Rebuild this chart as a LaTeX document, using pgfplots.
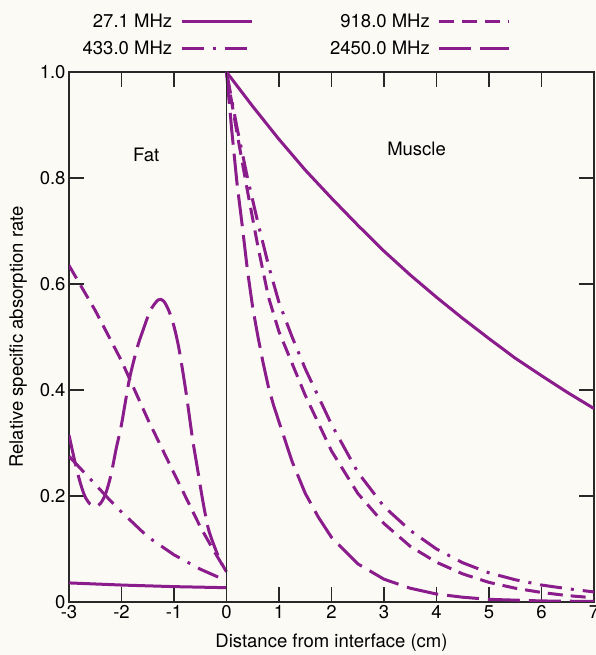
\documentclass[border=0pt]{standalone}
\usepackage{fontspec}
\setmainfont{TeX Gyre Heros}
\usepackage{pgfplots}
\pgfplotsset{compat=1.18}
\definecolor{pur}{RGB}{138,28,140}
\definecolor{bg}{RGB}{252,250,245}
\definecolor{axc}{RGB}{40,40,40}
\newcommand\fs{\fontsize{18.5}{22}\selectfont}
\begin{document}
\begin{tikzpicture}
\fill[bg] (-69pt,-53pt) rectangle (527pt,602pt);
\begin{axis}[
  name=ax, at={(0,0)}, anchor=south west,
  width=525pt, height=530pt, scale only axis,
  xmin=-3, xmax=7, ymin=0, ymax=1,
  xtick={-3,-2,-1,0,1,2,3,4,5,6,7},
  xticklabels={-3,-2,-1,0,1,2,3,4,5,6,7},
  ytick={0,0.2,0.4,0.6,0.8,1},
  yticklabels={0,0.2,0.4,0.6,0.8,1.0},
  tick align=inside, tick pos=both, major tick length=15pt,
  xticklabel pos=lower, yticklabel pos=left,
  axis line style={line width=1.4pt, axc},
  every tick/.style={line width=1.4pt, axc},
  ticklabel style={font=\fs},
  xlabel={Distance from interface (cm)},
  ylabel={Relative specific absorption rate},
  x label style={font=\fs, at={(axis description cs:0.5,0)}, anchor=center, yshift=-41pt},
  y label style={font=\fs, at={(axis description cs:0,0.5)}, anchor=center, yshift=51pt},
  legend columns=2,
  legend plot pos=right,
  legend cell align=right,
  legend image code/.code={\draw[#1] (0pt,0pt) -- (70pt,0pt);},
  legend style={draw=none, fill=none, font=\fs, inner sep=0pt,
    at={(0.842,1.0698)}, anchor=east, row sep=10pt,
    nodes={inner sep=1pt},
    /tikz/column 1/.style={column sep=7pt},
    /tikz/column 2/.style={column sep=76pt},
    /tikz/column 3/.style={column sep=7pt}},
  every axis plot/.append style={pur, line width=3pt},
]
% muscle side (legend entries)
\addplot[solid] coordinates {(0,1.0) (0.5,0.935) (1,0.873) (1.5,0.815) (2,0.762) (2.5,0.711) (3,0.662) (3.5,0.617) (4,0.575) (4.5,0.535) (5,0.497) (5.5,0.46) (6,0.427) (6.5,0.395) (7,0.365)};
\addlegendentry{27.1 MHz}
\addplot[dash pattern=on 15pt off 8pt] coordinates {(0,1.0) (0.2,0.885) (0.4,0.775) (0.6,0.67) (0.8,0.575) (1.0,0.51) (1.25,0.45) (1.5,0.39) (2.0,0.285) (2.5,0.205) (3.0,0.148) (3.5,0.105) (4.0,0.075) (4.5,0.053) (5.0,0.037) (5.5,0.026) (6.0,0.018) (6.5,0.012) (7.0,0.008)};
\addlegendentry{918.0 MHz}
\addplot[dash pattern=on 22pt off 9pt on 3pt off 9pt] coordinates {(0,1.0) (0.2,0.895) (0.4,0.8) (0.6,0.715) (0.8,0.635) (1.0,0.565) (1.25,0.5) (1.5,0.44) (2.0,0.335) (2.5,0.245) (3.0,0.18) (3.5,0.135) (4.0,0.1) (4.5,0.074) (5.0,0.055) (5.5,0.042) (6.0,0.032) (6.5,0.025) (7.0,0.019)};
\addlegendentry{433.0 MHz}
\addplot[dash pattern=on 32pt off 9pt] coordinates {(0,1.0) (0.1,0.89) (0.2,0.79) (0.3,0.71) (0.4,0.625) (0.5,0.555) (0.6,0.5) (0.7,0.45) (0.8,0.405) (0.9,0.37) (1.0,0.34) (1.25,0.265) (1.5,0.205) (1.75,0.16) (2.0,0.122) (2.5,0.072) (3.0,0.043) (3.5,0.026) (4.0,0.015) (4.5,0.009) (5.0,0.005) (6.0,0.002) (7.0,0.001)};
\addlegendentry{2450.0 MHz}
% fat side
\addplot[solid, forget plot] coordinates {(-3,0.036) (-2,0.032) (-1,0.029) (0,0.027)};
\addplot[dash pattern=on 15pt off 8pt, forget plot] coordinates {(-3,0.635) (-2.5,0.55) (-2,0.455) (-1.5,0.345) (-1,0.243) (-0.5,0.142) (-0.25,0.098) (0,0.057)};
\addplot[dash pattern=on 22pt off 9pt on 3pt off 9pt, forget plot] coordinates {(-3,0.275) (-2.5,0.222) (-2.23,0.193) (-2,0.17) (-1.5,0.123) (-1,0.089) (-0.5,0.062) (0,0.04)};
\addplot[dash pattern=on 32pt off 9pt, forget plot, smooth] coordinates {(-3,0.315) (-2.9,0.27) (-2.8,0.23) (-2.7,0.2) (-2.6,0.185) (-2.5,0.18) (-2.4,0.186) (-2.3,0.205) (-2.2,0.24) (-2.1,0.29) (-2.0,0.335) (-1.85,0.42) (-1.7,0.48) (-1.6,0.51) (-1.45,0.55) (-1.3,0.57) (-1.2,0.568) (-1.1,0.55) (-1.0,0.52) (-0.9,0.475) (-0.77,0.395) (-0.65,0.31) (-0.55,0.25) (-0.45,0.19) (-0.35,0.14) (-0.25,0.11) (-0.12,0.078) (0,0.057)};
% interface
\addplot[axc, line width=1.4pt, solid, forget plot] coordinates {(0,0) (0,1)};
\node[font=\fs] at (axis cs:-1.53,0.843) {Fat};
\node[font=\fs] at (axis cs:3.62,0.855) {Muscle};
\end{axis}
\pgfresetboundingbox
\path[use as bounding box] (-69pt,-53pt) rectangle (527pt,602pt);
\end{tikzpicture}
\end{document}
